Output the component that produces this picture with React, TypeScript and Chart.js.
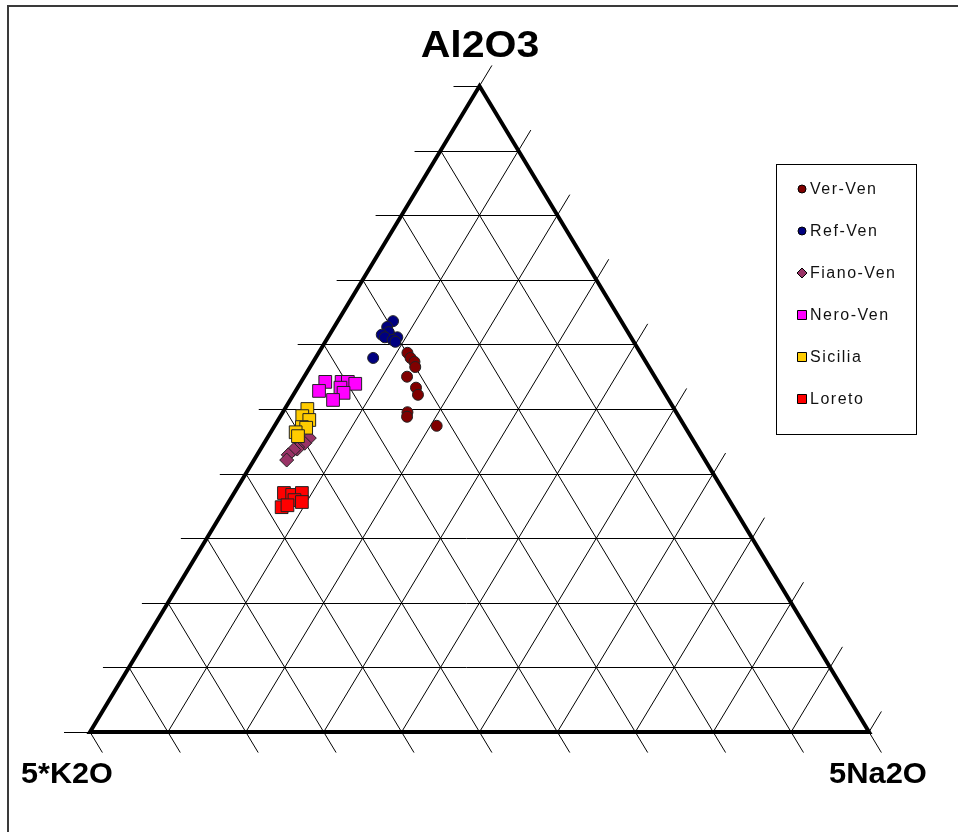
import React, { useEffect, useRef } from "react";
import { Chart, registerables } from "chart.js";

Chart.register(...registerables);

// Ternary compositions: [Al2O3, 5*K2O, 5Na2O] in percent
const VER_VEN: number[][] = [
  [58.7, 29.9, 11.4], [57.9, 29.9, 12.2], [57.3, 29.7, 13.0], [56.5, 30.0, 13.5],
  [55.0, 31.8, 13.2], [53.3, 31.5, 15.2], [52.2, 31.8, 16.0], [49.5, 34.5, 16.0],
  [48.8, 34.9, 16.3], [47.4, 31.8, 20.8],
];
const REF_VEN: number[][] = [
  [63.6, 29.3, 7.1], [62.7, 30.5, 6.8], [61.9, 30.7, 7.4], [61.5, 31.8, 6.7],
  [61.1, 31.6, 7.3], [61.1, 30.0, 8.9], [60.7, 30.8, 8.5], [60.4, 30.6, 9.0],
  [57.9, 34.7, 7.4],
];
const FIANO_VEN: number[][] = [
  [45.5, 49.1, 5.4], [44.7, 50.1, 5.2], [44.1, 51.3, 4.6], [43.8, 51.5, 4.7],
  [43.7, 52.0, 4.3], [42.9, 53.1, 4.0], [42.1, 53.7, 4.2],
];
const NERO_VEN: number[][] = [
  [54.2, 42.7, 3.1], [52.8, 44.2, 3.0], [54.2, 40.6, 5.2], [54.2, 39.8, 6.0],
  [53.9, 39.0, 7.1], [53.3, 41.2, 5.5], [52.5, 41.2, 6.3], [51.4, 43.1, 5.5],
];
const SICILIA: number[][] = [
  [50.0, 47.1, 2.9], [48.9, 48.3, 2.8], [48.3, 47.7, 4.0], [47.2, 49.2, 3.6],
  [47.1, 48.7, 4.2], [46.4, 50.4, 3.2], [45.8, 50.4, 3.8],
];
const LORETO: number[][] = [
  [37.0, 56.6, 6.4], [36.7, 55.7, 7.6], [37.0, 54.3, 8.7], [35.9, 55.8, 8.3],
  [34.8, 58.0, 7.2], [35.1, 57.1, 7.8], [35.6, 55.0, 9.4],
];

const SERIES_NAMES = ["Ver-Ven", "Ref-Ven", "Fiano-Ven", "Nero-Ven", "Sicilia", "Loreto"];
const SERIES_DATA = [VER_VEN, REF_VEN, FIANO_VEN, NERO_VEN, SICILIA, LORETO];
const SERIES_COLORS = ["#800000", "#000080", "#993366", "#FF00FF", "#FFCC00", "#FF0000"];
const SERIES_SHAPES = ["circle", "circle", "rectRot", "rect", "rect", "rect"];
const SERIES_RADII = [5.5, 5.5, 7, 9, 9, 9];

const AXIS_TOP = "Al2O3";
const AXIS_LEFT = "5*K2O";
const AXIS_RIGHT = "5Na2O";
const GRID_STEPS = [0, 0.1, 0.2, 0.3, 0.4, 0.5, 0.6, 0.7, 0.8, 0.9, 1];

const FONT = "'Liberation Sans', Arial, sans-serif";

// convert composition to cartesian values (x: 0..1, y: 0..1)
function toXY(c: number[]) {
  const sum = c[0] + c[1] + c[2];
  const a = c[0] / sum;
  const na = c[2] / sum;
  return { x: na + a / 2, y: a };
}

function stretchedText(ctx: CanvasRenderingContext2D, text: string, x: number, y: number, sx: number, align: "left" | "center") {
  ctx.save();
  ctx.translate(x, y);
  ctx.scale(sx, 1);
  ctx.textAlign = align;
  ctx.fillText(text, 0, 0);
  ctx.restore();
}

const ternaryPlugin = {
  id: "ternaryGrid",
  beforeDatasetsDraw(chart: any) {
    const { ctx } = chart;
    const xs = chart.scales.x;
    const ys = chart.scales.y;
    const P = (a: number, na: number) => [xs.getPixelForValue(na + a / 2), ys.getPixelForValue(a)];
    const BL = P(0, 0), BR = P(0, 1), T = P(1, 0);
    const unit = (p: number[], q: number[]) => {
      const dx = q[0] - p[0], dy = q[1] - p[1];
      const l = Math.hypot(dx, dy);
      return [dx / l, dy / l];
    };
    const upLeftDir = unit(BL, T);
    const downRightDir = unit(T, BR);
    const TICK = 24;
    ctx.save();
    // outer frame
    ctx.strokeStyle = "#3a3a3a";
    ctx.lineWidth = 2;
    ctx.strokeRect(8, 6, 2000, 2000);

    ctx.strokeStyle = "#000";
    ctx.lineWidth = 1;
    ctx.beginPath();
    for (const f of GRID_STEPS) {
      const l = P(f, 0), r = P(f, 1 - f);
      const yy = Math.round(l[1]) + 0.5;
      ctx.moveTo(l[0] - TICK - 2, yy);
      ctx.lineTo(r[0], yy);
      const b = P(0, f), e = P(1 - f, f);
      ctx.moveTo(b[0], b[1]);
      ctx.lineTo(e[0] + upLeftDir[0] * TICK, e[1] + upLeftDir[1] * TICK);
      const s = P(1 - f, 0), t = P(0, 1 - f);
      ctx.moveTo(s[0], s[1]);
      ctx.lineTo(t[0] + downRightDir[0] * TICK, t[1] + downRightDir[1] * TICK);
    }
    ctx.stroke();

    ctx.lineWidth = 4;
    ctx.lineJoin = "miter";
    ctx.beginPath();
    ctx.moveTo(BL[0], BL[1]);
    ctx.lineTo(T[0], T[1]);
    ctx.lineTo(BR[0], BR[1]);
    ctx.closePath();
    ctx.stroke();
    ctx.restore();
  },
  afterDraw(chart: any) {
    const { ctx } = chart;
    ctx.save();
    ctx.fillStyle = "#000";
    ctx.textBaseline = "alphabetic";
    ctx.font = `bold 37px ${FONT}`;
    stretchedText(ctx, AXIS_TOP, 480, 57, 1.11, "center");
    ctx.font = `bold 30px ${FONT}`;
    stretchedText(ctx, AXIS_LEFT, 21, 783, 1.02, "left");
    stretchedText(ctx, AXIS_RIGHT, 829, 783, 1.03, "left");

    // legend
    const lx = 776, ly = 164, lw = 140, lh = 270;
    ctx.fillStyle = "#fff";
    ctx.fillRect(lx, ly, lw, lh);
    ctx.strokeStyle = "#000";
    ctx.lineWidth = 1;
    ctx.strokeRect(lx + 0.5, ly + 0.5, lw, lh);
    ctx.font = `16px ${FONT}`;
    (ctx as any).letterSpacing = "1.5px";
    ctx.textBaseline = "middle";
    ctx.textAlign = "left";
    chart.data.datasets.forEach((ds: any, i: number) => {
      const cy = 189 + i * 42;
      const cx = 802;
      ctx.fillStyle = ds.backgroundColor;
      ctx.strokeStyle = "#000";
      ctx.lineWidth = 1;
      ctx.beginPath();
      const shape = SERIES_SHAPES[i];
      if (shape === "circle") {
        ctx.arc(cx, cy, 4, 0, Math.PI * 2);
      } else if (shape === "rectRot") {
        ctx.moveTo(cx - 5, cy);
        ctx.lineTo(cx, cy - 5);
        ctx.lineTo(cx + 5, cy);
        ctx.lineTo(cx, cy + 5);
        ctx.closePath();
      } else {
        ctx.rect(cx - 4.5, cy - 4.5, 9, 9);
      }
      ctx.fill();
      ctx.stroke();
      ctx.fillStyle = "#111";
      ctx.fillText(ds.label, 810, cy + 1);
    });
    ctx.restore();
  },
};

export default function App() {
  const canvasRef = useRef<HTMLCanvasElement | null>(null);
  useEffect(() => {
    if (!canvasRef.current) return;
    const datasets = SERIES_DATA.map((rows, i) => ({
      label: SERIES_NAMES[i],
      data: rows.map(toXY),
      backgroundColor: SERIES_COLORS[i],
      borderColor: "#222",
      borderWidth: 1,
      pointStyle: SERIES_SHAPES[i],
      pointRadius: SERIES_RADII[i],
      order: 10 - i,
    }));
    const chart = new Chart(canvasRef.current, {
      type: "scatter",
      data: { datasets } as any,
      options: {
        animation: false,
        responsive: false,
        devicePixelRatio: 1,
        layout: { padding: { left: 90, right: 89, top: 86, bottom: 100 } },
        scales: {
          x: { type: "linear", min: 0, max: 1, display: false },
          y: { type: "linear", min: 0, max: 1, display: false },
        },
        plugins: { legend: { display: false }, tooltip: { enabled: false } },
      } as any,
      plugins: [ternaryPlugin],
    });
    return () => chart.destroy();
  }, []);
  return (
    <div style={{ position: "fixed", left: 0, top: 0, width: 958, height: 832, background: "#fff" }}>
      <canvas ref={canvasRef} width={958} height={832} />
    </div>
  );
}
